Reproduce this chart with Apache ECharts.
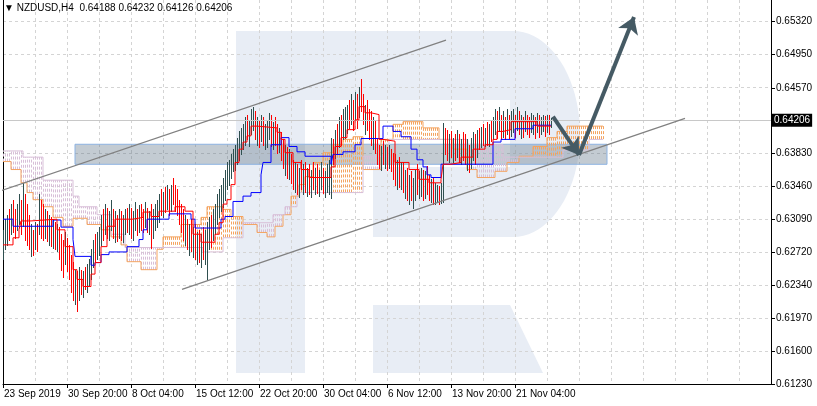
<!DOCTYPE html>
<html><head><meta charset="utf-8">
<script src="https://cdn.jsdelivr.net/npm/echarts@6/dist/echarts.min.js"></script>
<style>html,body{margin:0;padding:0;background:#fff}#c{width:817px;height:406px}</style>
</head><body><div id="c"></div>
<script>
// ---------- DATA ----------
const header = '\u25BC NZDUSD,H4  0.64188 0.64232 0.64126 0.64206';
const xLabels = ['23 Sep 2019','30 Sep 20:00','8 Oct 04:00','15 Oct 12:00','22 Oct 20:00','30 Oct 04:00','6 Nov 12:00','13 Nov 20:00','21 Nov 04:00'];
const xLabelBars = [0,32,64,96,128,160,192,224,256];
const yLabels = [0.6532,0.6495,0.6457,0.6383,0.6346,0.6309,0.6272,0.6234,0.6197,0.6160,0.6123];
const lastPrice = 0.64206;

const highs = [
.6297,.6309,.6314,.6320,.6326,.6331,.6320,.6326,.6337,.6331,
.6350,.6337,.6326,.6314,.6303,.6297,.6306,.6303,.6337,.6331,
.6326,.6320,.6318,.6314,.6311,.6309,.6306,.6303,.6300,.6292,
.6286,.6295,.6288,.6280,.6269,.6261,.6252,.6250,.6255,.6252,
.6250,.6255,.6258,.6264,.6275,.6286,.6292,.6295,.6300,.6314,
.6320,.6326,.6322,.6318,.6331,.6320,.6318,.6314,.6320,.6318,
.6314,.6320,.6322,.6326,.6322,.6318,.6328,.6320,.6325,.6326,
.6320,.6328,.6322,.6318,.6326,.6320,.6326,.6331,.6337,.6343,
.6340,.6345,.6348,.6343,.6347,.6355,.6348,.6343,.6331,.6326,
.6320,.6314,.6309,.6303,.6309,.6300,.6303,.6295,.6297,.6292,
.6300,.6297,.6306,.6311,.6314,.6320,.6326,.6337,.6343,.6348,
.6356,.6365,.6373,.6376,.6382,.6388,.6393,.6401,.6408,.6412,
.6416,.6424,.6427,.6421,.6433,.6436,.6431,.6424,.6421,.6427,
.6424,.6416,.6421,.6429,.6427,.6419,.6424,.6416,.6412,.6407,
.6399,.6393,.6390,.6388,.6382,.6376,.6374,.6371,.6367,.6376,
.6371,.6373,.6367,.6371,.6365,.6373,.6367,.6371,.6365,.6373,
.6367,.6363,.6371,.6376,.6401,.6399,.6410,.6416,.6424,.6427,
.6433,.6435,.6438,.6444,.6450,.6444,.6453,.6450,.6458,.6467,
.6450,.6438,.6444,.6433,.6431,.6424,.6421,.6399,.6393,.6391,
.6397,.6393,.6390,.6393,.6388,.6384,.6382,.6376,.6379,.6374,
.6373,.6365,.6367,.6359,.6363,.6356,.6365,.6371,.6363,.6367,
.6365,.6363,.6369,.6359,.6354,.6356,.6350,.6348,.6346,.6350,
.6418,.6412,.6410,.6405,.6408,.6401,.6405,.6410,.6405,.6399,
.6407,.6405,.6399,.6393,.6401,.6407,.6405,.6410,.6412,.6413,
.6416,.6412,.6419,.6416,.6421,.6424,.6433,.6431,.6435,.6427,
.6431,.6424,.6433,.6427,.6431,.6433,.6427,.6436,.6431,.6427,
.6424,.6431,.6427,.6424,.6429,.6427,.6424,.6429,.6426,.6424,
.6427,.6425,.6427,.6426,.64232];
const lows = [
.6264,.6275,.6280,.6286,.6292,.6295,.6288,.6297,.6303,.6292,
.6301,.6286,.6280,.6275,.6267,.6269,.6275,.6273,.6292,.6288,
.6286,.6288,.6284,.6280,.6279,.6277,.6275,.6273,.6264,.6252,
.6244,.6258,.6250,.6241,.6227,.6218,.6213,.6205,.6218,.6224,
.6221,.6230,.6227,.6235,.6241,.6255,.6261,.6264,.6269,.6280,
.6286,.6292,.6288,.6286,.6297,.6288,.6283,.6284,.6288,.6286,
.6283,.6292,.6295,.6292,.6288,.6286,.6297,.6291,.6295,.6297,
.6294,.6300,.6295,.6292,.6277,.6288,.6297,.6300,.6306,.6314,
.6311,.6317,.6320,.6314,.6318,.6326,.6318,.6314,.6303,.6295,
.6286,.6280,.6275,.6269,.6273,.6266,.6264,.6258,.6261,.6255,
.6264,.6258,.6241,.6275,.6278,.6286,.6292,.6303,.6311,.6318,
.6323,.6331,.6343,.6348,.6356,.6363,.6365,.6371,.6376,.6382,
.6388,.6393,.6399,.6391,.6405,.6410,.6399,.6393,.6390,.6397,
.6393,.6388,.6390,.6399,.6391,.6388,.6393,.6384,.6385,.6376,
.6367,.6359,.6356,.6354,.6350,.6343,.6340,.6337,.6334,.6343,
.6337,.6340,.6335,.6337,.6334,.6343,.6337,.6339,.6335,.6343,
.6338,.6334,.6340,.6337,.6333,.6371,.6378,.6384,.6390,.6393,
.6399,.6401,.6406,.6412,.6416,.6410,.6421,.6412,.6424,.6431,
.6416,.6405,.6410,.6399,.6393,.6388,.6384,.6371,.6367,.6365,
.6371,.6367,.6365,.6367,.6363,.6354,.6348,.6343,.6345,.6343,
.6340,.6333,.6331,.6326,.6331,.6322,.6331,.6337,.6333,.6335,
.6331,.6333,.6337,.6331,.6328,.6326,.6326,.6328,.6326,.6327,
.6328,.6382,.6376,.6373,.6379,.6374,.6376,.6379,.6373,.6371,
.6376,.6371,.6365,.6362,.6367,.6376,.6371,.6379,.6388,.6390,
.6393,.6391,.6393,.6391,.6397,.6399,.6405,.6401,.6408,.6399,
.6402,.6399,.6405,.6401,.6403,.6407,.6402,.6410,.6405,.6401,
.6402,.6408,.6405,.6402,.6407,.6405,.6401,.6407,.6402,.6405,
.6408,.6403,.6407,.6405,.64126];
const closes = [
.6275,.6292,.6303,.6292,.6314,.6306,.6297,.6318,.6326,.6300,
.6331,.6297,.6288,.6280,.6286,.6280,.6297,.6277,.6326,.6314,
.6295,.6309,.6288,.6303,.6286,.6300,.6280,.6292,.6269,.6261,
.6252,.6286,.6258,.6247,.6235,.6224,.6235,.6218,.6247,.6230,
.6243,.6235,.6252,.6258,.6269,.6280,.6269,.6288,.6295,.6309,
.6297,.6320,.6295,.6311,.6314,.6297,.6303,.6288,.6311,.6295,
.6306,.6314,.6300,.6320,.6297,.6311,.6318,.6297,.6314,.6311,
.6303,.6320,.6300,.6309,.6286,.6314,.6318,.6326,.6331,.6322,
.6337,.6326,.6340,.6320,.6343,.6337,.6322,.6318,.6309,.6303,
.6292,.6303,.6280,.6292,.6277,.6286,.6269,.6280,.6275,.6286,
.6269,.6280,.6297,.6303,.6292,.6314,.6320,.6331,.6337,.6343,
.6352,.6359,.6367,.6371,.6376,.6382,.6390,.6397,.6399,.6408,
.6410,.6416,.6410,.6412,.6424,.6427,.6408,.6416,.6399,.6420,
.6401,.6410,.6412,.6421,.6399,.6412,.6405,.6393,.6405,.6382,
.6376,.6388,.6363,.6371,.6356,.6354,.6365,.6345,.6359,.6354,
.6363,.6348,.6359,.6354,.6356,.6348,.6363,.6345,.6356,.6363,
.6343,.6354,.6359,.6367,.6393,.6388,.6405,.6399,.6420,.6410,
.6424,.6427,.6433,.6421,.6444,.6427,.6446,.6424,.6450,.6444,
.6424,.6433,.6416,.6410,.6401,.6416,.6393,.6388,.6376,.6385,
.6379,.6382,.6371,.6388,.6367,.6365,.6356,.6371,.6348,.6359,
.6348,.6354,.6337,.6343,.6333,.6337,.6354,.6345,.6348,.6354,
.6340,.6356,.6343,.6337,.6348,.6331,.6337,.6343,.6331,.6337,
.6410,.6399,.6388,.6399,.6382,.6393,.6388,.6401,.6379,.6393,
.6388,.6376,.6388,.6371,.6393,.6399,.6382,.6405,.6399,.6405,
.6399,.6408,.6401,.6410,.6405,.6416,.6424,.6410,.6427,.6405,
.6421,.6412,.6416,.6410,.6421,.6424,.6410,.6431,.6412,.6419,
.6410,.6421,.6416,.6410,.6419,.6421,.6410,.6416,.6408,.6416,
.6421,.6412,.6419,.64188,.64206];
const firstOpen = 0.6270;

// Ichimoku lines: [bar index where the value starts, value]
const tenkan = [[0,.6280],[5,.6288],[8,.6297],[9,.6307],[14,.6309],[27,.6297],[31,.6278],[35,.6252],[37,.6241],[40,.6233],[44,.6247],[46,.6260],[49,.6278],[52,.6301],[56,.6309],[65,.6311],[70,.6317],[74,.6312],[78,.6318],[86,.6323],[91,.6318],[95,.6292],[99,.6283],[106,.6292],[108,.6305],[110,.6326],[112,.6331],[114,.6348],[116,.6373],[118,.6388],[120,.6396],[122,.6403],[124,.6414],[127,.6412],[137,.6407],[139,.6399],[141,.6384],[145,.6373],[149,.6365],[153,.6356],[164,.6368],[166,.6391],[169,.6401],[172,.6410],[176,.6421],[178,.6436],[181,.6429],[184,.6427],[188,.6399],[190,.6397],[196,.6373],[203,.6365],[208,.6354],[213,.6350],[219,.6354],[220,.6371],[224,.6373],[229,.6379],[235,.6388],[241,.6393],[245,.6399],[247,.6408],[250,.6410],[254,.6419],[267,.6414],[274,.6414]];
const kijun = [[0,.6309],[5,.6301],[25,.6308],[29,.6300],[35,.6286],[36,.6267],[44,.6257],[46,.6260],[49,.6269],[53,.6272],[62,.6278],[68,.6286],[70,.6297],[72,.6309],[83,.6315],[94,.6309],[96,.6299],[109,.6309],[111,.6312],[115,.6329],[120,.6335],[124,.6339],[129,.6359],[130,.6373],[134,.6393],[139,.6401],[143,.6391],[147,.6385],[151,.6380],[164,.6371],[165,.6382],[170,.6385],[176,.6393],[179,.6400],[190,.6414],[195,.6408],[199,.6402],[204,.6388],[207,.6376],[210,.6368],[212,.6359],[214,.6356],[219,.6371],[245,.6396],[249,.6399],[256,.6411],[265,.6415],[274,.6415]];
const spanA = [[0,.6374],[4,.6365],[9,.6350],[12,.6339],[15,.6331],[20,.6323],[25,.6311],[30,.6301],[35,.6310],[42,.6303],[49,.6297],[54,.6289],[59,.6280],[62,.6261],[69,.6252],[77,.6275],[80,.6289],[89,.6303],[99,.6311],[102,.6323],[110,.6320],[114,.6312],[120,.6303],[127,.6294],[132,.6289],[136,.6301],[140,.6314],[144,.6335],[148,.6348],[151,.6357],[155,.6373],[160,.6384],[165,.6393],[170,.6399],[175,.6402],[180,.6365],[189,.6399],[195,.6416],[200,.6419],[210,.6412],[218,.6399],[225,.6388],[232,.6365],[237,.6356],[246,.6363],[252,.6373],[258,.6380],[265,.6391],[272,.6401],[277,.6408],[282,.6414],[300,.6414]];
const spanB = [[0,.6386],[10,.6379],[20,.6353],[35,.6335],[38,.6323],[47,.6314],[54,.6292],[61,.6277],[100,.6272],[110,.6288],[120,.6305],[135,.6314],[141,.6323],[147,.6339],[180,.6380],[193,.6399],[232,.6393],[250,.6379],[280,.6387],[293,.6399],[300,.6399]];

// drawing objects in price / bar coordinates
const channelUpper = [[-1.5,.63408],[221.5,.65111]];
const channelLower = [[89.5,.62297],[341,.64228]];
const zoneBand = [[36,.63935],[302,.63709]];
const arrowDown = [[275,.64246],[288,.63814]];
const arrowUp = [[288,.63814],[315.5,.65371]];

// ---------- CHART ----------
function stepVal(steps, i){ let v = steps[0][1]; for (const s of steps){ if (s[0] <= i) v = s[1]; else break; } return v; }
const cloudEnd = spanA[spanA.length-1][0];
const cloudData = [];
for (let i = 0; i <= cloudEnd; i++) cloudData.push([i, stepVal(spanA,i), stepVal(spanB,i)]);
const barData = highs.map((h,i)=>[i, h, lows[i], closes[i], i>0 ? closes[i-1] : firstOpen]);

// watermark logo outline (pixel decoration)
const logoBowl = [[305,31],[513,31]];
for (let k = 1; k < 40; k++) { const t = -Math.PI/2 + Math.PI*k/40; logoBowl.push([513 + 67*Math.cos(t), 134 + 103*Math.sin(t)]); }
logoBowl.push([513,237],[373,237],[373,167],[510,167],[510,100],[305,100]);

const FONT = 'Liberation Sans, Arial, DejaVu Sans, sans-serif';
const chart = echarts.init(document.getElementById('c'), null, {renderer:'canvas'});
const nBars = 384;

chart.setOption({
  animation:false,
  backgroundColor:'#ffffff',
  grid:{left:3,right:46,top:0,bottom:22,containLabel:false},
  graphic:[
    {type:'rect', z:-10, silent:true, shape:{x:236,y:31,width:69,height:342}, style:{fill:'#e8edf5'}},
    {type:'polygon', z:-10, silent:true, shape:{points:logoBowl}, style:{fill:'#e8edf5'}},
    {type:'polygon', z:-10, silent:true, shape:{points:[[373,305],[510,305],[543,373],[373,373]]}, style:{fill:'#e8edf5'}},
    {type:'text', x:4, y:3, z:50, silent:true, style:{text:header, font:'10px '+FONT, fill:'#000'}}
  ],
  xAxis:[
    {type:'value', min:0, max:nBars, interval:16, position:'bottom',
     axisLine:{show:true,onZero:false,lineStyle:{color:'#000',width:1}},
     axisTick:{show:false}, axisLabel:{show:false},
     splitLine:{show:true,showMinLine:false,showMaxLine:false,lineStyle:{color:'#d4d4d4',type:[3,3],width:1}}},
    {type:'value', min:0, max:nBars, interval:32, position:'bottom', offset:0,
     axisLine:{show:false,onZero:false},
     axisTick:{show:true,length:4,customValues:xLabelBars,lineStyle:{color:'#000'}},
     axisLabel:{show:true,customValues:xLabelBars,align:'left',margin:5,padding:[0,0,0,1],fontSize:10,fontFamily:FONT,color:'#000',
       formatter:function(v){const k=xLabelBars.indexOf(Math.round(v));return k>=0?xLabels[k]:'';}},
     splitLine:{show:false}}
  ],
  yAxis:[
    {type:'value', min:0.6123, max:0.65563, position:'right',
     axisLine:{show:true,onZero:false,lineStyle:{color:'#000',width:1}},
     axisTick:{show:true,length:4,customValues:yLabels,lineStyle:{color:'#000'}},
     axisLabel:{show:true,customValues:yLabels,margin:5,fontSize:10,fontFamily:FONT,color:'#000',formatter:function(v){return v.toFixed(5);}},
     splitLine:{show:false}},
    {type:'value', min:0, max:384/33, interval:1, position:'left',
     axisLine:{show:true,onZero:false,lineStyle:{color:'#000',width:1}},
     axisTick:{show:false}, axisLabel:{show:false},
     splitLine:{show:true,showMinLine:false,showMaxLine:false,lineStyle:{color:'#d4d4d4',type:[3,3],width:1}}}
  ],
  series:[
    {type:'custom', name:'cloud', z:2, silent:true, clip:true, data:cloudData,
     renderItem:function(params, api){
       const i=api.value(0), a=api.value(1), b=api.value(2);
       const p1=api.coord([i,a]), p2=api.coord([i,b]);
       const x=Math.round(p1[0])+0.5;
       return {type:'line', shape:{x1:x,y1:p1[1],x2:x,y2:p2[1]}, style:{stroke:a>=b?'#f4a460':'#d8bfd8',lineWidth:1,lineDash:[3,2]}};
     }},
    {type:'line', name:'Senkou A', data:spanA, step:'end', showSymbol:false, z:3, silent:true, lineStyle:{color:'#f4a460',width:1}},
    {type:'line', name:'Senkou B', data:spanB, step:'end', showSymbol:false, z:3, silent:true, lineStyle:{color:'#d8bfd8',width:1},
     markLine:{silent:true, symbol:['none','none'], animation:false, precision:5,
       lineStyle:{color:'#c8c8c8',type:'solid',width:1},
       label:{show:true,position:'end',distance:1,formatter:lastPrice.toFixed(5),color:'#fff',backgroundColor:'#000',padding:[2,2,1,2],fontSize:10,fontFamily:FONT},
       data:[{yAxis:lastPrice}]}},
    {type:'custom', name:'bars', z:4, silent:true, clip:true, data:barData,
     renderItem:function(params, api){
       const i=api.value(0);
       const ph=api.coord([i,api.value(1)]), pl=api.coord([i,api.value(2)]);
       const up=api.value(3)>=api.value(4);
       const x=Math.round(ph[0])+0.5;
       return {type:'line', shape:{x1:x,y1:Math.round(ph[1]),x2:x,y2:Math.round(pl[1])+1}, style:{stroke:up?'#2f4f4f':'#ff0000',lineWidth:1}};
     }},
    {type:'line', name:'Kijun', data:kijun, step:'end', showSymbol:false, z:5, silent:true, lineStyle:{color:'#0000ff',width:1}},
    {type:'line', name:'Tenkan', data:tenkan, step:'end', showSymbol:false, z:6, silent:true, lineStyle:{color:'#ff0000',width:1}},
    {type:'line', name:'channel up', data:channelUpper, showSymbol:false, z:7, silent:true, lineStyle:{color:'#808080',width:1.2},
     markArea:{silent:true, itemStyle:{color:'rgba(90,110,130,0.36)',borderColor:'#8db3e2',borderWidth:1},
       data:[[{xAxis:zoneBand[0][0],yAxis:zoneBand[0][1]},{xAxis:zoneBand[1][0],yAxis:zoneBand[1][1]}]]}},
    {type:'line', name:'channel down', data:channelLower, showSymbol:false, z:7, silent:true, lineStyle:{color:'#808080',width:1.2}},
    {type:'lines', name:'arrows', coordinateSystem:'cartesian2d', z:8, silent:true,
     symbol:['none','arrow'], symbolSize:[12,16],
     lineStyle:{color:'#455a64',width:4,opacity:1,curveness:0},
     data:[{coords:arrowDown},{coords:arrowUp}]}
  ]
});
</script>
</body></html>
